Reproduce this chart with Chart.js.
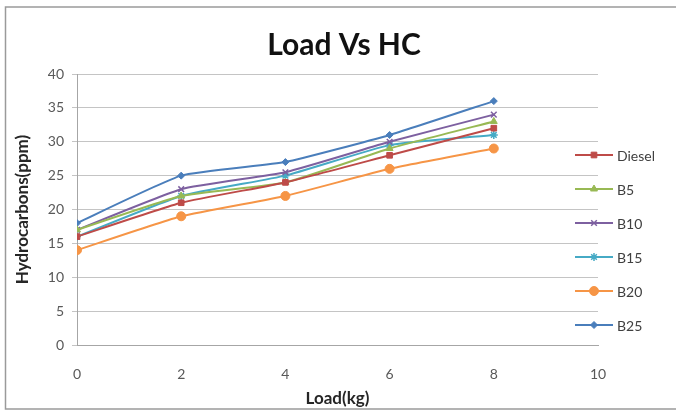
<!DOCTYPE html>
<html>
<head>
<meta charset="utf-8">
<script src="https://cdn.jsdelivr.net/npm/chart.js@4/dist/chart.umd.min.js"></script>
<style>
  html, body { margin: 0; padding: 0; background: #fff; }
  #wrap { width: 676px; height: 412px; position: relative; }
</style>
</head>
<body>
<div id="wrap"><canvas id="c" width="676" height="412"></canvas></div>
<script>
const loads = [0, 2, 4, 6, 8];
const seriesNames = ['Diesel', 'B5', 'B10', 'B15', 'B20', 'B25'];
const diesel = [16, 21, 24, 28, 32];
const b5 = [17, 22, 24, 29, 33];
const b10 = [17, 23, 25.5, 30, 34];
const b15 = [16, 22, 25, 29.5, 31];
const b20 = [14, 19, 22, 26, 29];
const b25 = [18, 25, 27, 31, 36];
const xTicks = [0, 2, 4, 6, 8, 10];
const yTicks = [0, 5, 10, 15, 20, 25, 30, 35, 40];
const chartTitle = 'Load Vs HC';

const FONT = 'Lato, "Liberation Sans", sans-serif';
const colors = ['#BE4B48', '#98B954', '#7D60A0', '#46AAC5', '#F69546', '#4A7EBB'];
const styles = ['rect', 'triangle', 'crossRot', 'star', 'circle', 'rectRot'];
const radii = [4, 4, 4, 4, 4.5, 3.5];
const allValues = [diesel, b5, b10, b15, b20, b25];

const datasets = seriesNames.map((name, i) => ({
  label: name,
  data: loads.map((x, j) => ({ x: x, y: allValues[i][j] })),
  borderColor: colors[i],
  backgroundColor: colors[i],
  borderWidth: 2,
  pointStyle: styles[i],
  pointRadius: radii[i],
  pointBorderWidth: (styles[i] === 'crossRot' || styles[i] === 'star') ? 1.5 : 1,
  pointBorderColor: colors[i],
  pointBackgroundColor: colors[i],
  tension: 0.15,
  fill: false
}));

const decor = {
  id: 'decor',
  afterDraw(chart) {
    const ctx = chart.ctx;
    ctx.save();
    // outer border
    ctx.strokeStyle = '#9a9a9a';
    ctx.lineWidth = 1.5;
    ctx.strokeRect(5.5, 7, 700, 402);
    // title
    ctx.fillStyle = '#111';
    ctx.font = 'bold 30px ' + FONT;
    ctx.textAlign = 'center';
    ctx.textBaseline = 'middle';
    ctx.fillText(chartTitle, 344, 45);
    // legend
    const x0 = 575, x1 = 613, tx = 617;
    chart.data.datasets.forEach((ds, i) => {
      const y = 155 + i * 34;
      ctx.strokeStyle = ds.borderColor;
      ctx.lineWidth = 2;
      ctx.beginPath();
      ctx.moveTo(x0, y);
      ctx.lineTo(x1, y);
      ctx.stroke();
      ctx.fillStyle = ds.backgroundColor;
      ctx.strokeStyle = ds.borderColor;
      ctx.lineWidth = ds.pointBorderWidth;
      Chart.helpers.drawPoint(ctx, { pointStyle: ds.pointStyle, radius: ds.pointRadius, rotation: 0, borderWidth: ds.pointBorderWidth }, (x0 + x1) / 2, y);
      ctx.fillStyle = '#404040';
      ctx.font = '14px ' + FONT;
      ctx.textBaseline = 'middle';
      ctx.textAlign = 'left';
      ctx.fillText(ds.label, tx, y + 1);
    });
    ctx.restore();
  }
};

new Chart(document.getElementById('c'), {
  type: 'line',
  data: { datasets: datasets },
  options: {
    responsive: false,
    animation: false,
    layout: { padding: { left: 0, right: 78, top: 74, bottom: 0 } },
    plugins: {
      legend: { display: false },
      tooltip: { enabled: false },
      title: { display: false }
    },
    scales: {
      x: {
        type: 'linear',
        min: 0,
        max: 10,
        afterBuildTicks(axis) { axis.ticks = xTicks.map(v => ({ value: v })); },
        grid: { display: false, drawTicks: true, tickLength: 5 },
        border: { display: true, color: '#a6a6a6', width: 1 },
        ticks: { color: '#595959', font: { family: FONT, size: 14 }, padding: 16 },
        title: {
          display: true,
          text: 'Load(kg)',
          color: '#262626',
          font: { family: FONT, size: 17, weight: 'bold' },
          padding: { top: 2, bottom: 3 }
        },
        afterFit(scale) { scale.height = 67; }
      },
      y: {
        type: 'linear',
        min: 0,
        max: 40,
        afterBuildTicks(axis) { axis.ticks = yTicks.map(v => ({ value: v })); },
        grid: { color: '#c4c4c4', lineWidth: 1, drawTicks: true, tickLength: 5 },
        border: { display: true, color: '#a6a6a6', width: 1 },
        ticks: { color: '#595959', font: { family: FONT, size: 14 }, padding: 8 },
        title: {
          display: true,
          text: 'Hydrocarbons(ppm)',
          color: '#262626',
          font: { family: FONT, size: 17, weight: 'bold' },
          padding: { top: 12, bottom: 2 }
        },
        afterFit(scale) { scale.width = 77; }
      }
    }
  },
  plugins: [decor]
});
</script>
</body>
</html>
